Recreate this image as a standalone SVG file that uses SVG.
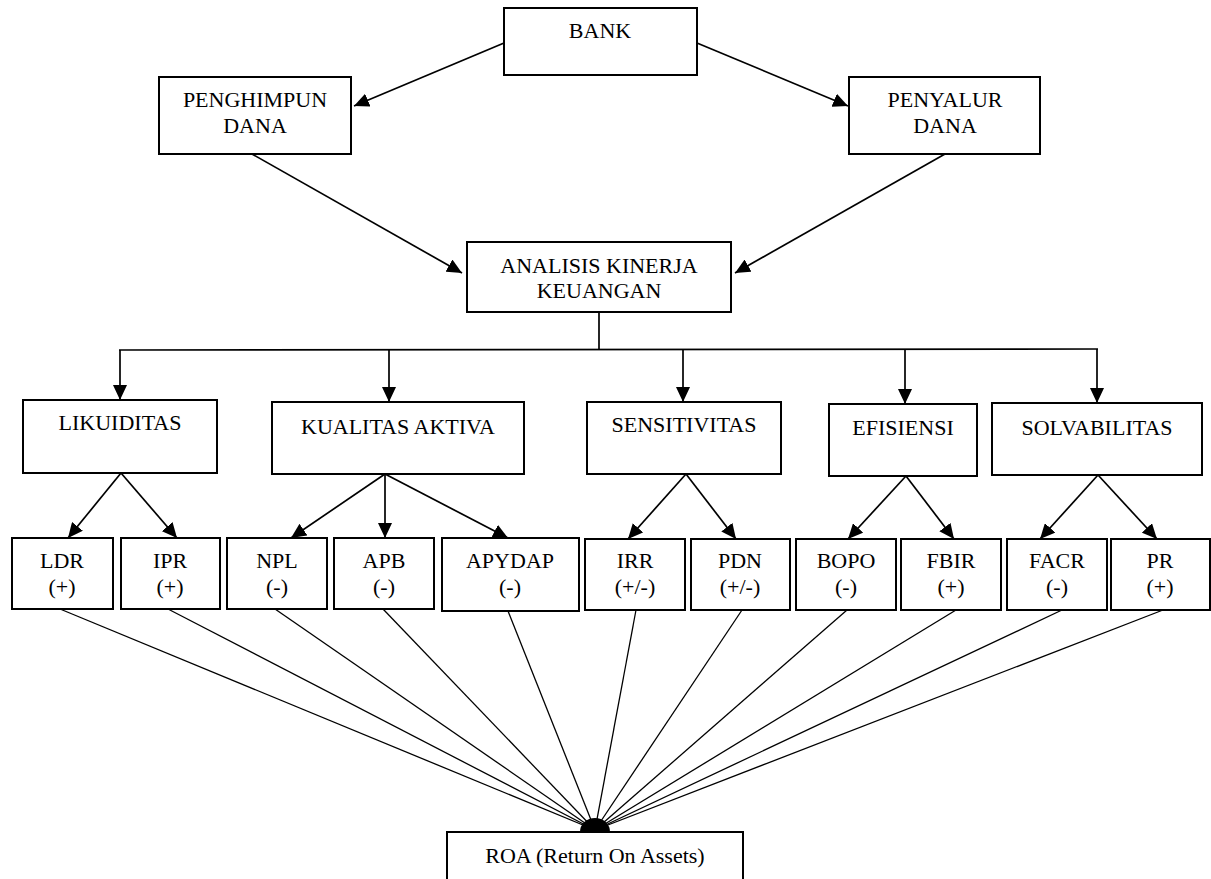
<svg xmlns="http://www.w3.org/2000/svg" width="1211" height="879" viewBox="0 0 1211 879">
<style>
.box{fill:#fff;stroke:#000;stroke-width:2}
.t{font-family:"Liberation Serif","Tinos","Times New Roman","DejaVu Serif",serif;font-size:22px;fill:#000;text-anchor:middle}
.c{stroke:#000;stroke-width:1.7;fill:none}
.r{stroke:#000;stroke-width:1.3;fill:none}
</style>
<defs>
<marker id="ah" markerUnits="userSpaceOnUse" markerWidth="16" markerHeight="14" refX="15" refY="7" orient="auto" viewBox="0 0 16 14">
<path d="M0,0 L15,7 L0,14 z" fill="#000"/>
</marker>
</defs>
<rect width="1211" height="879" fill="#fff"/>
<g id="connectors">
<line class="c" x1="504" y1="43" x2="354" y2="106" marker-end="url(#ah)"/>
<line class="c" x1="697" y1="43" x2="848" y2="106" marker-end="url(#ah)"/>
<line class="c" x1="252" y1="154" x2="462" y2="273" marker-end="url(#ah)"/>
<line class="c" x1="945" y1="154" x2="735" y2="273" marker-end="url(#ah)"/>
<line class="c" x1="599" y1="312" x2="599" y2="350"/>
<line class="c" x1="119" y1="350" x2="1098" y2="349"/>
<line class="c" x1="120" y1="350" x2="120" y2="400" marker-end="url(#ah)"/>
<line class="c" x1="389" y1="350" x2="389" y2="402" marker-end="url(#ah)"/>
<line class="c" x1="683" y1="350" x2="683" y2="402" marker-end="url(#ah)"/>
<line class="c" x1="905" y1="350" x2="905" y2="404" marker-end="url(#ah)"/>
<line class="c" x1="1097" y1="349" x2="1097" y2="403" marker-end="url(#ah)"/>
<line class="c" x1="121" y1="473" x2="68" y2="538" marker-end="url(#ah)"/>
<line class="c" x1="121" y1="473" x2="177" y2="538" marker-end="url(#ah)"/>
<line class="c" x1="385" y1="474" x2="291" y2="538" marker-end="url(#ah)"/>
<line class="c" x1="385" y1="474" x2="385" y2="538" marker-end="url(#ah)"/>
<line class="c" x1="385" y1="474" x2="508" y2="538" marker-end="url(#ah)"/>
<line class="c" x1="686" y1="474" x2="628" y2="539" marker-end="url(#ah)"/>
<line class="c" x1="686" y1="474" x2="736" y2="539" marker-end="url(#ah)"/>
<line class="c" x1="906" y1="476" x2="848" y2="539" marker-end="url(#ah)"/>
<line class="c" x1="906" y1="476" x2="954" y2="539" marker-end="url(#ah)"/>
<line class="c" x1="1098" y1="475" x2="1040" y2="539" marker-end="url(#ah)"/>
<line class="c" x1="1098" y1="475" x2="1157" y2="539" marker-end="url(#ah)"/>
<line class="r" x1="60" y1="609" x2="595" y2="830"/>
<line class="r" x1="168" y1="609" x2="595" y2="830"/>
<line class="r" x1="275" y1="609" x2="595" y2="830"/>
<line class="r" x1="383" y1="609" x2="595" y2="830"/>
<line class="r" x1="508" y1="611" x2="595" y2="830"/>
<line class="r" x1="636" y1="610" x2="595" y2="830"/>
<line class="r" x1="742" y1="610" x2="595" y2="830"/>
<line class="r" x1="847" y1="610" x2="595" y2="830"/>
<line class="r" x1="956" y1="610" x2="595" y2="830"/>
<line class="r" x1="1062" y1="610" x2="595" y2="830"/>
<line class="r" x1="1163" y1="610" x2="595" y2="830"/>
<path d="M580,832 A15,14 0 0 1 610,832 Z" fill="#000"/>
</g>
<g id="bank"><rect class="box" x="504" y="8" width="193" height="67"/><text class="t" x="600" y="38">BANK</text></g>
<g id="penghimpun"><rect class="box" x="159" y="77" width="192" height="77"/><text class="t" x="255" y="107">PENGHIMPUN</text><text class="t" x="255" y="133">DANA</text></g>
<g id="penyalur"><rect class="box" x="849" y="77" width="191" height="77"/><text class="t" x="945" y="107">PENYALUR</text><text class="t" x="945" y="133">DANA</text></g>
<g id="analisis"><rect class="box" x="467" y="242" width="264" height="70"/><text class="t" x="599" y="273">ANALISIS KINERJA</text><text class="t" x="599" y="298">KEUANGAN</text></g>
<g id="likuiditas"><rect class="box" x="23" y="400" width="194" height="73"/><text class="t" x="120" y="430">LIKUIDITAS</text></g>
<g id="kualitas"><rect class="box" x="272" y="402" width="252" height="72"/><text class="t" x="398" y="434">KUALITAS AKTIVA</text></g>
<g id="sensitivitas"><rect class="box" x="587" y="402" width="194" height="72"/><text class="t" x="684" y="432">SENSITIVITAS</text></g>
<g id="efisiensi"><rect class="box" x="829" y="404" width="148" height="72"/><text class="t" x="903" y="435">EFISIENSI</text></g>
<g id="solvabilitas"><rect class="box" x="992" y="403" width="210" height="72"/><text class="t" x="1097" y="435">SOLVABILITAS</text></g>
<g id="ldr"><rect class="box" x="12" y="538" width="101" height="71"/><text class="t" x="62" y="568">LDR</text><text class="t" x="62" y="594">(+)</text></g>
<g id="ipr"><rect class="box" x="121" y="538" width="99" height="71"/><text class="t" x="170" y="568">IPR</text><text class="t" x="170" y="594">(+)</text></g>
<g id="npl"><rect class="box" x="227" y="538" width="100" height="71"/><text class="t" x="277" y="568">NPL</text><text class="t" x="277" y="594">(-)</text></g>
<g id="apb"><rect class="box" x="334" y="538" width="100" height="71"/><text class="t" x="384" y="568">APB</text><text class="t" x="384" y="594">(-)</text></g>
<g id="apydap"><rect class="box" x="442" y="538" width="137" height="73"/><text class="t" x="510" y="568">APYDAP</text><text class="t" x="510" y="594">(-)</text></g>
<g id="irr"><rect class="box" x="585" y="539" width="100" height="71"/><text class="t" x="635" y="568">IRR</text><text class="t" x="635" y="594">(+/-)</text></g>
<g id="pdn"><rect class="box" x="691" y="539" width="99" height="71"/><text class="t" x="740" y="568">PDN</text><text class="t" x="740" y="594">(+/-)</text></g>
<g id="bopo"><rect class="box" x="796" y="539" width="100" height="71"/><text class="t" x="846" y="568">BOPO</text><text class="t" x="846" y="594">(-)</text></g>
<g id="fbir"><rect class="box" x="901" y="539" width="100" height="71"/><text class="t" x="951" y="568">FBIR</text><text class="t" x="951" y="594">(+)</text></g>
<g id="facr"><rect class="box" x="1007" y="539" width="100" height="71"/><text class="t" x="1057" y="568">FACR</text><text class="t" x="1057" y="594">(-)</text></g>
<g id="pr"><rect class="box" x="1111" y="539" width="99" height="71"/><text class="t" x="1160" y="568">PR</text><text class="t" x="1160" y="594">(+)</text></g>
<g id="roa"><rect class="box" x="447" y="832" width="296" height="70"/><text class="t" x="595" y="863">ROA (Return On Assets)</text></g>
</svg>
